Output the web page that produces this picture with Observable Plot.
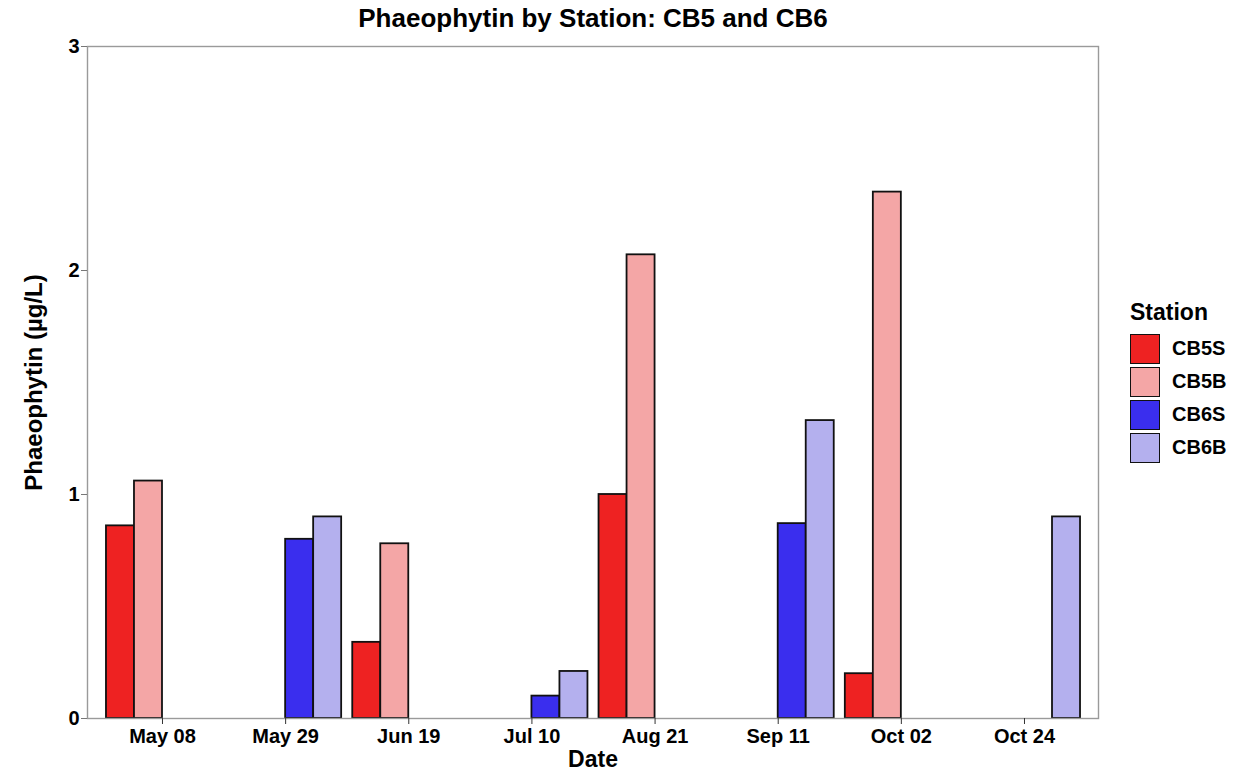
<!DOCTYPE html>
<html>
<head>
<meta charset="utf-8">
<script src="https://cdn.jsdelivr.net/npm/d3@7"></script>
<script src="https://cdn.jsdelivr.net/npm/@observablehq/plot@0.6"></script>
<style>
  html, body { margin: 0; padding: 0; background: #fff; }
  #wrap { position: relative; width: 1241px; height: 773px; font-family: "Liberation Sans", Arial, sans-serif; }
  #wrap svg text { font-weight: bold; fill: #000; }
  .legend { position: absolute; left: 1130px; top: 297px; font-family: "Liberation Sans", Arial, sans-serif; font-weight: bold; color: #000; }
  .legend .ttl { font-size: 23px; line-height: 30px; height: 35px; }
  .legend .row { display: flex; align-items: center; height: 33px; }
  .legend .key { width: 28px; height: 28px; border: 1.6px solid #111; box-sizing: content-box; }
  .legend .lab { font-size: 20px; margin-left: 12px; }
</style>
</head>
<body>
<div id="wrap"></div>
<script>
// ---- data ----
const dateLabels = ["May 08", "May 29", "Jun 19", "Jul 10", "Aug 21", "Sep 11", "Oct 02", "Oct 24"];
const stations = ["CB5S", "CB5B", "CB6S", "CB6B"];
const colors = ["#ee2222", "#f4a6a6", "#3a2eee", "#b4b0ee"];
const CB5S = [0.86, null, 0.34, null, 1.00, null, 0.20, null];
const CB5B = [1.06, null, 0.78, null, 2.07, null, 2.35, null];
const CB6S = [null, 0.80, null, 0.10, null, 0.87, null, null];
const CB6B = [null, 0.90, null, 0.21, null, 1.33, null, 0.90];
const yTicks = [0, 1, 2, 3];

const series = {CB5S, CB5B, CB6S, CB6B};
const dodgeWidth = 0.91;
const barW = dodgeWidth / stations.length;
const rows = [];
dateLabels.forEach((d, i) => {
  stations.forEach((s, k) => {
    const v = series[s][i];
    if (v != null) {
      const x1 = i - dodgeWidth / 2 + k * barW;
      rows.push({date: d, station: s, x1, x2: x1 + barW, value: v});
    }
  });
});

const chart = Plot.plot({
  width: 1241,
  height: 773,
  marginTop: 46,
  marginBottom: 55,
  marginLeft: 87,
  marginRight: 143,
  style: {fontFamily: "'Liberation Sans', Arial, sans-serif", background: "#fff"},
  x: {type: "linear", domain: [-0.609, 7.601]},
  y: {domain: [0, 3]},
  color: {domain: stations, range: colors},
  marks: [
    Plot.rectY(rows, {x1: "x1", x2: "x2", y: "value", fill: "station", stroke: "#111", strokeWidth: 1.8}),
    Plot.frame({stroke: "#9a9a9a", strokeWidth: 1.4}),
    Plot.axisX({ticks: d3.range(dateLabels.length), tickFormat: i => dateLabels[i], tickSize: 6, tickPadding: 4, fontSize: 20, stroke: "#333", label: null}),
    Plot.axisY({ticks: yTicks, tickFormat: d => String(d), tickSize: 6, tickPadding: 2, fontSize: 20, stroke: "#777", label: null}),
    Plot.text(["Phaeophytin by Station: CB5 and CB6"], {frameAnchor: "top", dy: -28, fontSize: 26, fontWeight: "bold", lineAnchor: "middle"}),
    Plot.text(["Date"], {frameAnchor: "bottom", dy: 41, fontSize: 23, fontWeight: "bold", lineAnchor: "middle"}),
    Plot.text(["Phaeophytin (µg/L)"], {frameAnchor: "left", dx: -53, rotate: -90, fontSize: 24, fontWeight: "bold", lineAnchor: "middle", textAnchor: "middle"})
  ]
});

const wrap = document.getElementById("wrap");
wrap.appendChild(chart);

// legend
const leg = document.createElement("div");
leg.className = "legend";
const t = document.createElement("div");
t.className = "ttl";
t.textContent = "Station";
leg.appendChild(t);
stations.forEach((s, k) => {
  const r = document.createElement("div");
  r.className = "row";
  const key = document.createElement("div");
  key.className = "key";
  key.style.background = colors[k];
  const lab = document.createElement("div");
  lab.className = "lab";
  lab.textContent = s;
  r.appendChild(key);
  r.appendChild(lab);
  leg.appendChild(r);
});
wrap.appendChild(leg);
</script>
</body>
</html>
